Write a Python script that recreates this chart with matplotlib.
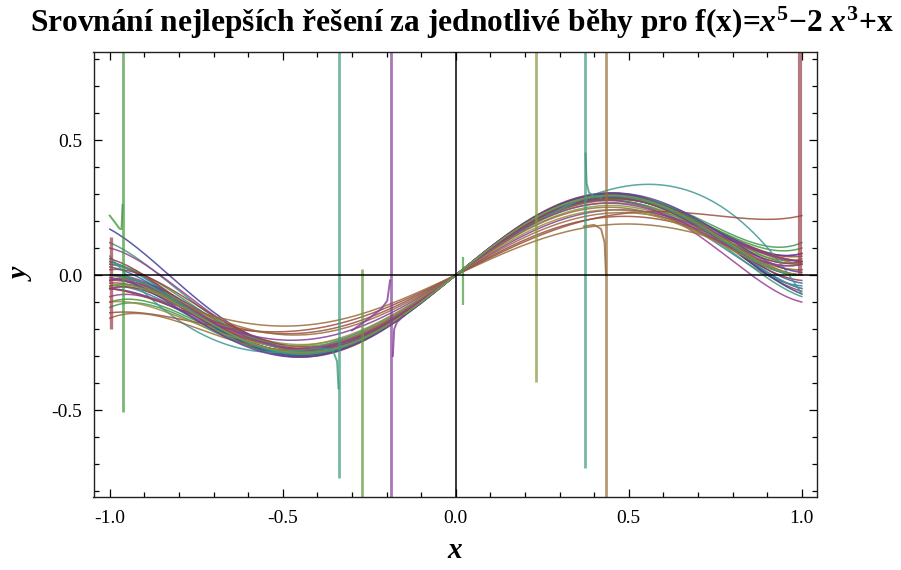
import numpy as np
import matplotlib
matplotlib.use('Agg')
import matplotlib.pyplot as plt
from matplotlib.ticker import MultipleLocator, FormatStrFormatter
import colorsys

plt.rcParams['mathtext.fontset'] = 'custom'
plt.rcParams['mathtext.rm'] = 'Liberation Serif:bold'
plt.rcParams['mathtext.it'] = 'Liberation Serif:italic:bold'
plt.rcParams['mathtext.bf'] = 'Liberation Serif:bold'
plt.rcParams['axes.unicode_minus'] = False

# ---------------- data ----------------
# each best-of-run solution, y = c1 x + c2 x^2 + c3 x^3 + c4 x^4 + c5 x^5
coef_x1 = [1.00, 1.04, 0.96, 1.05, 1.02, 0.98, 1.03, 1.00, 1.00, 1.03,
           0.95, 1.03, 1.05, 1.00, 1.06, 0.90, 1.00, 1.00, 1.02, 0.97,
           1.05, 1.00, 1.02, 0.93, 1.04, 0.98, 0.87, 0.65, 0.60, 0.70,
           0.75, 0.80, 0.85, 0.90, 1.04, 0.95, 1.03, 1.02]
coef_x2 = [0.00, 0.00, 0.00, 0.00, 0.00, 0.00, 0.02, 0.04, -0.04, 0.03,
           0.02, 0.00, 0.00, 0.05, 0.00, 0.00, 0.02, 0.05, 0.00, 0.00,
           0.00, 0.00, -0.02, 0.01, 0.00, 0.06, 0.12, 0.04, 0.00, 0.00,
           0.02, 0.00, -0.05, -0.06, 0.00, -0.02, 0.00, 0.03]
coef_x3 = [-2.00, -2.08, -1.92, -2.12, -2.00, -1.95, -2.05, -2.00, -2.00, -2.08,
           -1.85, -2.10, -2.05, -2.05, -2.10, -1.80, -2.00, -2.00, -2.02, -1.90,
           -2.15, -2.10, -2.05, -1.88, -2.05, -2.02, -1.04, -0.965, -1.00, -1.20,
           -1.35, -1.45, -1.60, -1.75, -2.00, -1.95, -2.08, -2.05]
coef_x4 = [0.00, 0.00, 0.00, 0.00, 0.00, 0.00, 0.00, 0.00, 0.00, -0.03,
           0.00, 0.00, 0.00, -0.02, 0.00, 0.00, 0.00, 0.00, 0.00, 0.00,
           0.00, 0.00, 0.02, 0.00, 0.00, -0.06, -0.12, 0.00, 0.00, 0.00,
           0.00, 0.00, 0.00, 0.00, 0.00, 0.03, 0.00, -0.05]
coef_x5 = [1.00, 1.06, 0.98, 1.07, 0.93, 1.05, 1.00, 1.00, 1.00, 1.05,
           0.95, 1.12, 0.95, 1.10, 0.98, 0.90, 0.90, 0.88, 1.12, 1.03,
           1.15, 1.00, 1.03, 1.00, 0.98, 1.02, 0.10, 0.495, 0.45, 0.55,
           0.62, 0.70, 0.80, 0.95, 0.97, 1.03, 1.05, 1.05]
curve_color = [0, 1, 2, 3, 4, 5, 6, 7, 8, 9,
               10, 11, 12, 13, 14, 15, 16, 0, 3, 7,
               1, 5, 8, 11, 4, 14, 12, 10, 6, 10,
               6, 9, 2, 6, 13, 5, 16, 15]

# near-vertical pole artefacts (x position, lower end, upper end)
spike_x = [-0.962, -0.337, -0.272, -0.186, 0.021, 0.231, 0.373, 0.435, 0.994, -0.995]
spike_lo = [-0.507, -0.752, -0.90, -0.90, -0.110, -0.396, -0.715, -0.90, 0.00, -0.20]
spike_hi = [0.90, 0.90, 0.022, 0.90, 0.067, 0.90, 0.90, 0.90, 0.90, 0.14]
spike_color = [7, 16, 11, 9, 7, 15, 16, 6, 14, 14]
spike_width = [2.0, 2.0, 2.0, 2.0, 1.6, 2.0, 2.0, 2.0, 3.0, 2.4]

# curve pieces bending into the poles
hook_green_x = [-1.000, -0.985, -0.972, -0.966, -0.963]
hook_green_y = [0.220, 0.195, 0.172, 0.170, 0.260]
hook_mint_x = [0.375, 0.378, 0.385, 0.400, 0.420]
hook_mint_y = [0.450, 0.340, 0.305, 0.292, 0.286]
hook_brown_x = [0.370, 0.400, 0.420, 0.430, 0.434]
hook_brown_y = [0.180, 0.186, 0.170, 0.120, 0.000]
hook_purple_x = [-0.300, -0.250, -0.215, -0.198, -0.190]
hook_purple_y = [-0.205, -0.160, -0.125, -0.095, -0.020]
hook_purple2_x = [-0.182, -0.178, -0.170, -0.150]
hook_purple2_y = [-0.300, -0.200, -0.175, -0.150]
hook_mint2_x = [-0.420, -0.380, -0.355, -0.343, -0.339]
hook_mint2_y = [-0.272, -0.272, -0.280, -0.320, -0.420]

x_ticks = [-1.0, -0.5, 0.0, 0.5, 1.0]
y_ticks = [-0.5, 0.0, 0.5]
title_str = "Srovnání nejlepších řešení za jednotlivé běhy pro f(x)=$x^5$\u22122 $x^3$+x"

# ---------------- style ----------------
def palette(i):
    h = (0.67 + 0.2361 * i) % 1.0
    return colorsys.hsv_to_rgb(h, 0.6, 0.6)

W, H = 901, 570
fig = plt.figure(figsize=(W / 100, H / 100), dpi=100)
ax = fig.add_axes([93.5 / W, (H - 497.3) / H, (816.7 - 93.5) / W, (497.3 - 51.7) / H])

xs = np.linspace(-1.0, 1.0, 1201)
for c1, c2, c3, c4, c5, ci in zip(coef_x1, coef_x2, coef_x3, coef_x4, coef_x5, curve_color):
    ys = np.polyval([c5, c4, c3, c2, c1, 0.0], xs)
    ax.plot(xs, ys, color=palette(ci), lw=1.1, alpha=0.85, zorder=2)

for sx, lo, hi, ci, lw in zip(spike_x, spike_lo, spike_hi, spike_color, spike_width):
    ax.plot([sx, sx], [lo, hi], color=palette(ci), lw=lw, alpha=0.7, zorder=2,
            solid_capstyle='butt')

for hx, hy, ci in [(hook_green_x, hook_green_y, 7), (hook_mint_x, hook_mint_y, 16),
                   (hook_brown_x, hook_brown_y, 6), (hook_purple_x, hook_purple_y, 9),
                   (hook_purple2_x, hook_purple2_y, 9), (hook_mint2_x, hook_mint2_y, 16)]:
    ax.plot(hx, hy, color=palette(ci), lw=1.4, alpha=0.8, zorder=2)

ax.axhline(0, color='black', lw=1.1, zorder=3)
ax.axvline(0, color='black', lw=1.1, zorder=3)

ax.set_xlim(-1.047, 1.043)
ax.set_ylim(-0.823, 0.827)

ax.set_xticks(x_ticks)
ax.set_yticks(y_ticks)
ax.xaxis.set_minor_locator(MultipleLocator(0.1))
ax.yaxis.set_minor_locator(MultipleLocator(0.1))
ax.xaxis.set_major_formatter(FormatStrFormatter('%.1f'))
ax.yaxis.set_major_formatter(FormatStrFormatter('%.1f'))
ax.tick_params(which='both', direction='in', top=True, right=True, width=0.9, color='black')
ax.tick_params(which='major', length=6)
ax.tick_params(which='minor', length=3.5)
ax.tick_params(axis='x', which='major', pad=9)
ax.tick_params(axis='y', which='major', pad=8)
for lab in ax.get_xticklabels() + ax.get_yticklabels():
    lab.set_fontfamily('Liberation Serif')
    lab.set_fontsize(14)
for sp in ax.spines.values():
    sp.set_linewidth(1.0)
    sp.set_color('#222222')

t = fig.text(461.5 / W, 1 - 32 / H, title_str, ha='center', va='baseline',
             fontfamily='Liberation Serif', fontweight='bold', fontsize=20)
fig.canvas.draw()
w = t.get_window_extent().width
t.set_fontsize(20 * 863 / w)

fig.text(455 / W, 1 - 551 / H, 'x', ha='center', va='center', fontfamily='Liberation Serif',
         fontweight='bold', fontstyle='italic', fontsize=21)
fig.text(22 / W, 1 - 275 / H, 'y', ha='center', va='center', rotation=90,
         fontfamily='Liberation Serif', fontweight='bold', fontstyle='italic', fontsize=20)

fig.savefig('out.png', dpi=100)
